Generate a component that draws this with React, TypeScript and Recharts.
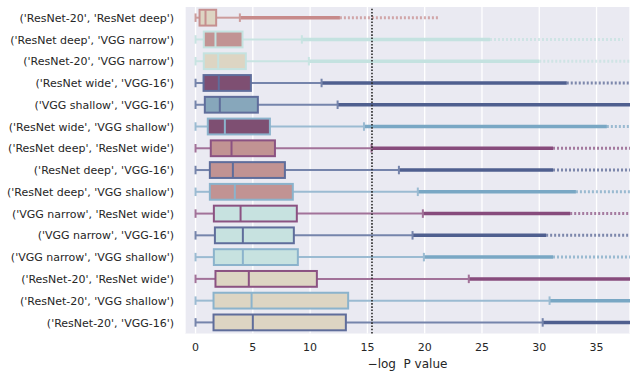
import React from 'react';
import { ComposedChart, Bar, XAxis, YAxis, CartesianGrid, ReferenceLine } from 'recharts';

// ---- data ----
const firstModel = [
  'ResNet-20', 'ResNet deep', 'ResNet-20', 'ResNet wide', 'VGG shallow',
  'ResNet wide', 'ResNet deep', 'ResNet deep', 'ResNet deep', 'VGG narrow',
  'VGG narrow', 'VGG narrow', 'ResNet-20', 'ResNet-20', 'ResNet-20',
];
const secondModel = [
  'ResNet deep', 'VGG narrow', 'VGG narrow', 'VGG-16', 'VGG-16',
  'VGG shallow', 'ResNet wide', 'VGG-16', 'VGG shallow', 'ResNet wide',
  'VGG-16', 'VGG shallow', 'ResNet wide', 'VGG shallow', 'VGG-16',
];
const whiskerLow = [0, 0, 0, 0, 0, 0, 0, 0, 0, 0, 0, 0, 0, 0, 0];
const q1 = [0.35, 0.72, 0.72, 0.7, 0.81, 1.07, 1.33, 1.25, 1.25, 1.6, 1.69, 1.6, 1.74, 1.57, 1.57];
const median = [0.87, 1.74, 1.98, 2.03, 2.12, 2.56, 3.14, 3.26, 3.43, 3.93, 4.13, 4.13, 4.65, 4.89, 5.0];
const q3 = [1.8, 4.1, 4.39, 4.83, 5.44, 6.49, 6.93, 7.8, 8.49, 8.84, 8.58, 8.93, 10.59, 13.32, 13.12];
const whiskerHigh = [3.87, 9.28, 9.89, 11.0, 12.4, 14.7, 15.36, 17.75, 19.4, 19.84, 18.94, 19.93, 23.85, 30.9, 30.3];
const outlierDenseEnd = [12.6, 25.7, 30.0, 32.4, 40, 35.9, 31.2, 31.2, 33.2, 32.7, 30.6, 31.2, 40, 40, 40];
const outlierMax = [21.3, 37.3, 40, 40, 40, 40, 40, 40, 40, 40, 40, 40, 40, 40, 40];
const xTicks = [0, 5, 10, 15, 20, 25, 30, 35];
const threshold = 15.4;

// ---- styles ----
const FILL: Record<string, string> = {
  'ResNet-20': '#ddd5c3',
  'ResNet deep': '#c19393',
  'VGG narrow': '#c7e2e0',
  'ResNet wide': '#7e4f72',
  'VGG shallow': '#87a7bb',
  'VGG-16': '#55648f',
};
const EDGE: Record<string, string> = {
  'ResNet deep': '#c68f8f',
  'VGG narrow': '#c4e2e0',
  'ResNet wide': '#8b5282',
  'VGG shallow': '#8bb3cc',
  'VGG-16': '#5f6d9b',
};
const OUT: Record<string, string> = {
  'ResNet deep': '#c78a8a',
  'VGG narrow': '#c4e2e0',
  'ResNet wide': '#874b7c',
  'VGG shallow': '#79a7c4',
  'VGG-16': '#4f5f8f',
};
const WHISK: Record<string, string> = {
  'ResNet deep': '#cc9c9c',
  'VGG narrow': '#c8e4e2',
  'ResNet wide': '#a27299',
  'VGG shallow': '#9bbbd2',
  'VGG-16': '#7584ab',
};

const rows = firstModel.map((a, i) => ({
  label: `('${a}', '${secondModel[i]}')`,
  first: a,
  second: secondModel[i],
  lo: whiskerLow[i],
  q1: q1[i],
  med: median[i],
  q3: q3[i],
  hiW: whiskerHigh[i],
  dense: outlierDenseEnd[i],
  max: outlierMax[i],
  span: [whiskerLow[i], outlierMax[i]],
}));

const BoxShape = (props: any) => {
  const { x, y, width, height, payload } = props;
  const p = payload;
  const k = width / (p.max - p.lo);
  const px = (v: number) => x + (v - p.lo) * k;
  const cy = y + height / 2;
  const capH = height * 0.5;
  const edge = EDGE[p.second];
  const whisk = WHISK[p.second];
  const out = OUT[p.second];
  const fill = FILL[p.first];
  return (
    <g>
      <line x1={px(p.hiW)} x2={px(Math.min(p.dense, p.max))} y1={cy} y2={cy} stroke={out} strokeWidth={3.5} />
      {p.max > p.dense && (
        <line x1={px(p.dense)} x2={px(p.max)} y1={cy} y2={cy} stroke={out} strokeWidth={3} strokeDasharray="2 2" opacity={0.7} />
      )}
      <line x1={px(p.lo)} x2={px(p.q1)} y1={cy} y2={cy} stroke={whisk} strokeWidth={2} />
      <line x1={px(p.q3)} x2={px(p.hiW)} y1={cy} y2={cy} stroke={whisk} strokeWidth={2} />
      <line x1={px(p.lo)} x2={px(p.lo)} y1={cy - capH / 2} y2={cy + capH / 2} stroke={whisk} strokeWidth={2} />
      <line x1={px(p.hiW)} x2={px(p.hiW)} y1={cy - capH / 2} y2={cy + capH / 2} stroke={whisk} strokeWidth={2} />
      <rect x={px(p.q1)} y={y + 0.6} width={px(p.q3) - px(p.q1)} height={height - 1.2} fill={fill} stroke={edge} strokeWidth={2} />
      <line x1={px(p.med)} x2={px(p.med)} y1={y + 0.6} y2={y + height - 0.6} stroke={edge} strokeWidth={2} />
    </g>
  );
};

const tickStyle = { fill: '#262626', fontSize: 11, fontFamily: 'DejaVu Sans' };

const CategoryTick = (props: any) => {
  const { x, y, payload } = props;
  return (
    <text x={x} y={y} dy="0.355em" textAnchor="end" fill="#262626" fontSize={11} fontFamily="DejaVu Sans">
      {payload.value}
    </text>
  );
};

export default function App() {
  return (
    <div style={{ position: 'absolute', left: 0, top: 0, width: 637, height: 381, background: '#fff' }}>
      <ComposedChart
        width={637}
        height={381}
        data={rows}
        layout="vertical"
        margin={{ top: 7, right: 7, bottom: 0, left: 0 }}
        barCategoryGap="10%"
      >
        <CartesianGrid horizontal={false} stroke="#ffffff" strokeWidth={1.3} fill="#eaeaf2" />
        <XAxis
          type="number"
          domain={[-0.92, 37.92]}
          ticks={xTicks}
          allowDataOverflow
          axisLine={false}
          tickLine={false}
          tickSize={0}
          tickMargin={10}
          height={47.5}
          tick={tickStyle}
          label={{
            value: '\u2212log\u00a0 P value',
            position: 'insideBottom',
            offset: 13.5,
            style: { fill: '#262626', fontSize: 12, fontFamily: 'DejaVu Sans' },
          }}
        />
        <YAxis
          type="category"
          dataKey="label"
          width={185}
          axisLine={false}
          tickLine={false}
          tickSize={0}
          tickMargin={11}
          interval={0}
          tick={<CategoryTick />}
        />
        <Bar dataKey="span" shape={BoxShape} isAnimationActive={false} />
        <ReferenceLine x={threshold} stroke="#2a2a2a" strokeWidth={1.6} strokeDasharray="1.6 1.6" />
      </ComposedChart>
    </div>
  );
}
